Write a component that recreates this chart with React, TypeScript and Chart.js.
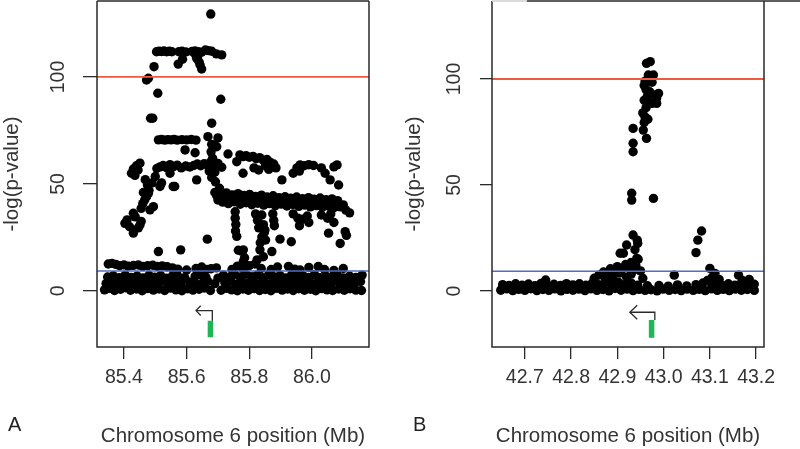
import React, { useEffect, useRef } from "react";
import { Chart, registerables } from "chart.js";
Chart.register(...registerables);

type P = [number, number];

// ---------- axis / reference values ----------
const xTicksA = [85.4, 85.6, 85.8, 86.0];
const xTicksB = [42.7, 42.8, 42.9, 43.0, 43.1, 43.2];
const yTicks = [0, 50, 100];
const redThreshold = 100;
const blueThreshold = 9.3;

// ---------- panel A: SNP positions (Mb) and -log(p) ----------
const snpsA_base: P[] = [
  [85.338,0.5],[85.352,1.2],[85.37,0.2],[85.389,0.8],[85.405,1.5],[85.421,0.3],[85.44,0.9],[85.458,0.1],[85.476,1.1],[85.494,0.4],
  [85.512,0.9],[85.53,0.2],[85.549,1.3],[85.566,0.5],[85.585,0.1],[85.603,1.0],[85.62,0.4],[85.64,0.8],[85.657,1.4],[85.676,0.2],
  [85.71,0.3],[85.727,1.2],[85.744,0.5],[85.762,0.1],[85.78,0.9],[85.797,0.3],[85.815,1.1],[85.833,0.2],[85.851,0.7],[85.869,0.1],
  [85.887,1.2],[85.905,0.4],[85.922,0.9],[85.94,0.2],[85.958,1.0],[85.976,0.3],[85.995,0.8],[86.012,0.1],[86.03,1.1],[86.048,0.5],
  [86.066,0.2],[86.085,0.9],[86.103,0.3],[86.121,1.0],[86.14,0.4],[86.158,0.2],
  [85.343,3.5],[85.361,4.2],[85.38,3.1],[85.398,4.6],[85.416,3.3],[85.435,4.0],[85.453,3.2],[85.472,4.4],[85.49,3.0],[85.508,3.8],
  [85.527,4.5],[85.545,3.2],[85.563,3.9],[85.582,3.3],[85.61,4.1],[85.632,3.0],[85.65,3.6],[85.668,4.4],[85.69,3.4],[85.722,3.8],
  [85.74,4.6],[85.758,3.1],[85.776,4.2],[85.794,3.5],[85.812,4.8],[85.83,3.2],[85.848,4.1],[85.866,3.4],[85.884,4.7],[85.902,3.1],
  [85.92,4.3],[85.938,3.6],[85.956,4.9],[85.974,3.2],[85.992,4.0],[86.01,3.4],[86.028,4.5],[86.046,3.1],[86.064,3.9],[86.082,4.6],
  [86.1,3.3],[86.118,4.1],[86.136,3.5],[86.155,4.4],
  [85.348,6.5],[85.366,7.1],[85.385,6.2],[85.404,7.4],[85.423,6.3],[85.442,7.0],[85.461,6.1],[85.48,7.3],[85.498,6.4],[85.517,7.2],
  [85.536,6.0],[85.555,7.1],[85.574,6.6],[85.594,6.2],[85.627,6.8],[85.645,7.5],[85.662,6.3],[85.7,6.0],[85.717,7.3],[85.735,6.4],
  [85.753,7.6],[85.771,6.5],[85.789,7.8],[85.807,6.6],[85.825,7.4],[85.843,6.2],[85.862,7.7],[85.88,6.5],[85.898,7.2],[85.916,6.1],
  [85.935,7.5],[85.953,6.4],[85.972,7.1],[85.99,6.3],[86.008,7.6],[86.026,6.2],[86.044,7.0],[86.063,6.4],[86.081,7.3],[86.1,6.1],
  [86.12,6.9],[86.14,6.3],[86.16,7.4],
  [85.35,12.6],[85.362,12.9],[85.374,12.4],[85.386,11.8],[85.4,12.2],[85.414,11.6],[85.43,11.9],[85.446,12.1],[85.46,11.5],[85.476,11.8],
  [85.492,12.0],[85.506,11.4],[85.522,11.7],[85.538,11.3],[85.555,10.8],[85.572,10.2],[85.6,9.8],[85.63,10.5],[85.648,11.2],[85.664,10.0],
  [85.678,10.4],[85.695,10.8],[85.745,10.1],[85.762,11.6],[85.78,10.4],[85.8,11.8],[85.818,12.6],[85.838,10.5],[85.87,10.0],[85.89,11.2],
  [85.925,11.5],[85.945,10.2],[85.962,9.8],[85.99,11.0],[86.02,11.4],[86.04,10.0],[86.07,9.6],[86.1,10.5],
];

const snpsA_mid: P[] = [
  [85.51,18.4],[85.581,19.2],[85.666,24.2],[85.765,19.0],[85.781,19.2],[85.775,18.6],[85.781,13.7],[85.785,15.5],[85.825,14.5],[85.845,16.0],
  [85.834,19.2],[85.872,18.4],[85.835,22.5],[85.84,25.2],[85.848,27.3],[85.852,23.8],[85.898,24.2],[85.934,23.0],[86.053,27.0],[86.09,22.2],
  [86.106,27.7],[86.11,26.0],
  [85.403,31.6],[85.41,33.2],[85.418,30.0],[85.43,36.3],[85.436,34.6],[85.446,29.5],[85.451,30.8],[85.43,27.0],[85.455,32.5],[85.46,40.8],
  [85.466,42.5],[85.472,44.0],[85.478,45.6],[85.455,38.6],[85.483,37.9],[85.494,39.4],[85.462,46.0],[85.468,52.0],[85.475,49.5],[85.48,47.0],
  [85.49,50.5],[85.5,53.5],
  [85.69,46.0],[85.708,45.3],[85.727,45.8],[85.745,44.9],[85.764,45.5],[85.783,44.6],[85.801,45.1],[85.82,44.2],[85.839,44.8],[85.857,43.9],
  [85.876,44.5],[85.895,43.6],[85.914,44.0],[85.932,43.3],[85.951,43.9],[85.97,43.1],[85.989,43.6],[86.007,42.9],[86.026,43.4],[86.045,42.6],
  [86.064,43.0],[86.082,42.2],
  [85.72,43.3],[85.74,43.0],[85.76,43.4],[85.78,42.8],[85.8,43.1],[85.82,42.5],[85.84,42.9],[85.86,42.2],[85.88,42.6],[85.9,42.0],
  [85.92,42.3],[85.94,41.8],[85.96,42.1],[85.98,41.5],[86.0,41.9],[86.02,41.3],[86.04,41.6],[86.06,41.0],[86.08,40.6],[86.1,40.2],
  [85.715,41.5],[85.733,40.8],[85.752,41.6],[85.771,40.5],[85.79,41.2],[85.808,40.3],[85.827,41.0],[85.846,40.1],[85.864,40.8],[85.883,39.9],
  [85.902,40.6],[85.92,39.7],[85.939,40.4],[85.958,39.5],[85.977,40.1],[85.995,39.3],[86.014,39.9],[86.033,39.1],[86.052,39.7],[86.07,38.9],
  [86.09,39.3],[86.108,37.8],[86.12,36.5],
  [85.755,37.0],[85.755,34.0],[85.757,31.0],[85.756,28.0],[85.76,25.5],[85.82,36.0],[85.826,33.0],[85.84,35.5],[85.845,31.0],[85.85,28.5],
  [85.83,29.5],[85.875,36.0],[85.878,33.0],[85.88,30.5],[85.94,36.0],[85.955,34.0],[85.97,33.5],[85.985,35.0],[85.99,32.0],[85.96,30.5],
  [86.03,35.5],[86.05,34.0],[86.06,36.0],[86.07,32.0],
  [85.7,42.5],[85.696,44.5],[85.705,48.0],
];

const snpsA_high: P[] = [
  [85.677,129.4],
  [85.504,111.8],[85.512,112.0],[85.52,111.9],[85.528,112.1],[85.536,111.8],[85.545,112.0],[85.553,111.8],[85.575,111.8],[85.585,112.0],[85.597,111.7],
  [85.617,111.9],[85.627,112.2],[85.637,111.8],[85.648,111.6],[85.66,112.6],[85.67,112.3],[85.68,112.0],[85.695,110.8],[85.712,110.3],
  [85.587,108.3],[85.573,106.0],[85.632,108.7],[85.64,107.0],[85.643,105.6],[85.648,103.7],[85.628,110.5],[85.636,110.0],
  [85.496,104.8],[85.472,98.6],[85.478,99.4],[85.508,92.4],[85.709,89.6],[85.485,80.7],[85.492,80.7],[85.68,78.4],
  [85.51,70.6],[85.52,70.8],[85.53,70.5],[85.54,70.7],[85.55,70.6],[85.56,70.8],[85.57,70.5],[85.585,70.7],[85.6,70.6],[85.615,70.8],
  [85.63,70.5],[85.668,72.1],[85.7,71.5],
  [85.595,65.9],[85.627,64.6],[85.696,67.4],[85.732,64.0],[85.68,68.5],[85.678,65.0],[85.683,62.0],
  [85.505,57.2],[85.515,58.0],[85.525,58.6],[85.536,57.6],[85.547,59.0],[85.558,58.1],[85.57,58.8],[85.583,57.5],[85.597,58.4],[85.61,57.9],
  [85.623,58.6],[85.634,59.3],[85.645,58.5],[85.656,59.5],[85.667,58.8],[85.676,60.2],[85.688,58.9],[85.7,59.6],[85.712,57.8],[85.672,56.0],
  [85.69,55.5],[85.68,53.0],[85.692,51.0],[85.632,51.9],[85.547,55.0],[85.557,48.8],[85.562,48.8],[85.515,48.8],[85.52,50.5],
  [85.424,55.0],[85.43,57.0],[85.44,58.5],[85.451,59.7],[85.445,56.5],[85.435,54.0],
  [85.76,60.4],[85.77,63.6],[85.78,62.8],[85.79,63.2],[85.8,62.5],[85.812,62.9],[85.822,61.8],[85.833,62.3],[85.845,61.0],[85.856,61.5],
  [85.866,60.2],[85.878,59.3],[85.885,57.5],[85.78,55.0],[85.904,51.9],[85.815,57.5],[85.83,56.5],[85.852,58.5],[85.862,56.8],
  [85.94,55.0],[85.952,57.5],[85.962,58.9],[85.975,58.5],[85.99,59.0],[86.005,58.6],[86.03,57.5],[86.042,55.0],[86.058,51.9],[86.07,58.0],
  [86.08,58.9],[86.085,49.5],[85.96,56.0],
];

// ---------- panel B ----------
const snpsB_base: P[] = [
  [42.648,0.4],[42.661,1.0],[42.674,0.2],[42.687,0.8],[42.7,0.3],[42.713,1.1],[42.726,0.2],[42.739,0.7],[42.752,0.3],[42.765,1.0],
  [42.778,0.1],[42.791,0.8],[42.804,0.4],[42.817,0.9],[42.83,0.2],[42.843,1.0],[42.856,0.3],[42.869,0.7],[42.882,0.1],[42.895,1.2],
  [42.908,0.4],[42.921,0.9],[42.934,0.2],[42.947,0.8],[42.96,0.3],[42.973,0.6],[42.986,0.1],[42.999,0.9],[43.012,0.3],[43.025,0.7],
  [43.038,0.2],[43.051,0.9],[43.064,0.3],[43.077,0.8],[43.09,0.2],[43.103,1.0],[43.116,0.3],[43.129,0.8],[43.142,0.2],[43.155,0.9],
  [43.168,0.4],[43.181,0.7],[43.196,0.3],
  [42.652,3.0],[42.666,2.6],[42.68,3.4],[42.694,2.8],[42.708,3.3],[42.722,2.5],[42.735,3.6],[42.745,5.2],[42.749,2.7],[42.763,3.2],
  [42.777,2.6],[42.79,3.5],[42.804,2.9],[42.818,3.4],[42.832,2.7],[42.846,3.8],[42.86,3.0],[42.874,4.0],[42.888,3.3],[42.902,4.2],
  [42.916,3.1],[42.93,3.7],[42.944,2.8],[42.965,2.5],[42.99,2.6],[43.01,2.3],[43.03,2.9],[43.05,2.4],[43.07,3.0],[43.085,3.8],
  [43.1,4.4],[43.112,3.2],[43.126,2.8],[43.14,3.4],[43.154,2.7],[43.168,3.5],[43.182,2.8],[43.196,3.2],
];

const snpsB_ramp: P[] = [
  [42.85,6.0],[42.86,7.5],[42.87,9.0],[42.88,8.0],[42.885,10.5],[42.895,9.5],[42.9,11.5],[42.905,8.5],[42.912,10.5],[42.918,12.5],
  [42.925,11.0],[42.93,13.5],[42.935,10.0],[42.94,12.0],[42.945,15.0],[42.906,17.8],[42.92,21.7],[42.934,26.4],[42.943,24.0],[42.942,15.4],
  [42.938,19.5],[42.913,17.8],[42.944,22.5],[42.93,8.0],[42.92,6.5],[42.95,9.5],[42.955,6.0],[42.89,6.5],[42.875,5.5],
  [43.082,28.3],[43.074,24.0],[43.07,18.1],[43.1,10.7],[43.111,8.3],[43.162,7.5],[43.023,7.5],[43.105,6.5],[43.12,5.5],[43.095,5.0],
  [43.17,5.0],[43.185,5.5],
];

const snpsB_peak: P[] = [
  [42.971,108.2],[42.963,107.4],[42.967,101.9],[42.978,101.9],[42.973,100.5],[42.96,99.0],[42.958,97.0],[42.975,98.5],[42.962,95.0],[42.97,94.0],
  [42.965,92.0],[42.989,93.2],[42.98,92.5],[42.958,90.0],[42.968,89.0],[42.975,88.5],[42.962,86.5],[42.955,84.0],[42.96,82.0],[42.966,81.0],
  [42.958,79.5],[42.934,76.7],[42.956,75.9],[42.963,72.0],[42.934,69.7],[42.934,65.7],[42.931,46.1],[42.931,42.9],[42.978,43.7],[42.985,91.0],
  [42.985,88.5],
];

// ---------- genes (position Mb, drawn below zero) ----------
const geneArrowA: P[] = [[85.682,-13.9],[85.682,-9.2],[85.630,-9.2]];
const geneHeadA: P[] = [[85.645,-6.9],[85.630,-9.2],[85.645,-11.5]];
const geneBarA: P[] = [[85.676,-13.9],[85.676,-21.6]];
const geneArrowB: P[] = [[42.981,-13.7],[42.981,-10.0],[42.927,-10.0]];
const geneHeadB: P[] = [[42.943,-6.7],[42.927,-10.0],[42.943,-13.3]];
const geneBarB: P[] = [[42.974,-13.7],[42.974,-22.0]];

const FONT = "'Liberation Sans', Arial, sans-serif";
const TEXT = "#333";

const toXY = (a: P[]) => a.map(([x, y]) => ({ x, y }));

const framePlugin = {
  id: "frame",
  afterDatasetsDraw(chart: any, _args: any, opts: any) {
    const { ctx, chartArea } = chart;
    const { left, top, right, bottom } = chartArea;
    ctx.save();
    ctx.lineWidth = 1.5;
    ctx.strokeStyle = "#2a2a2a";
    ctx.beginPath();
    ctx.moveTo(left, top);
    ctx.lineTo(left, bottom);
    ctx.lineTo(right, bottom);
    ctx.lineTo(right, top);
    ctx.stroke();
    if (opts.topSplit) {
      ctx.strokeStyle = "#cfcfcf";
      ctx.beginPath();
      ctx.moveTo(left, top);
      ctx.lineTo(left + opts.topSplit, top);
      ctx.stroke();
      ctx.strokeStyle = "#2a2a2a";
      ctx.beginPath();
      ctx.moveTo(left + opts.topSplit, top);
      ctx.lineTo(chart.width, top);
      ctx.stroke();
    } else {
      ctx.beginPath();
      ctx.moveTo(left, top);
      ctx.lineTo(right, top);
      ctx.stroke();
    }
    ctx.fillStyle = "#222";
    ctx.font = `20px ${FONT}`;
    ctx.textBaseline = "alphabetic";
    ctx.fillText(opts.letter, opts.letterX, opts.letterY);
    ctx.restore();
  },
};

interface PanelProps {
  xMin: number; xMax: number; yMin: number; yMax: number;
  xTicks: number[]; pts: P[][];
  arrow: P[]; head: P[]; bar: P[];
  letter: string; letterX: number;
  yAxisWidth: number; rightPad: number; yTickLen: number; yTickPad: number; yTitlePad: number;
  topSplit?: number;
}

function Panel(p: PanelProps) {
  const ref = useRef<HTMLCanvasElement | null>(null);
  useEffect(() => {
    if (!ref.current) return;
    const lineDs = (data: P[], color: string, width: number) => ({
      type: "scatter" as const,
      data: toXY(data),
      showLine: true,
      borderColor: color,
      borderWidth: width,
      pointRadius: 0,
      fill: false,
      tension: 0,
      borderCapStyle: "butt" as const,
    });
    const chart = new Chart(ref.current, {
      type: "scatter",
      data: {
        datasets: [
          lineDs([[p.xMin, redThreshold], [p.xMax, redThreshold]], "#ee5a3c", 1.8),
          lineDs([[p.xMin, blueThreshold], [p.xMax, blueThreshold]], "#4f6fc4", 1.5),
          lineDs(p.arrow, "#2a2a2a", 1.3),
          lineDs(p.head, "#2a2a2a", 1.3),
          lineDs(p.bar, "#1fb456", 5.5),
          ...p.pts.map((arr) => ({
            data: toXY(arr),
            pointRadius: 4.7,
            pointBackgroundColor: "#000",
            pointBorderWidth: 0,
            showLine: false,
          })),
        ] as any,
      },
      options: {
        animation: false,
        responsive: false,
        events: [],
        layout: { autoPadding: false, padding: { left: 0, right: p.rightPad, top: 1, bottom: 0 } },
        plugins: {
          legend: { display: false },
          tooltip: { enabled: false },
          frame: { letter: p.letter, letterX: p.letterX, letterY: 431, topSplit: p.topSplit },
        } as any,
        scales: {
          x: {
            type: "linear",
            min: p.xMin,
            max: p.xMax,
            afterBuildTicks: (s: any) => { s.ticks = p.xTicks.map((v) => ({ value: v })); },
            afterFit: (s: any) => { s.height = 102; s.paddingLeft = 0; s.paddingRight = 0; s.paddingTop = 0; s.paddingBottom = 0; },
            ticks: {
              autoSkip: false, minRotation: 0, maxRotation: 0, padding: 7, color: TEXT,
              font: { family: FONT, size: 19.5 },
              callback: (v: any) => Number(v).toFixed(1),
            },
            grid: { drawOnChartArea: false, drawTicks: true, tickLength: 12, color: "#2a2a2a", lineWidth: 1.3 },
            border: { display: false },
            title: {
              display: true, text: "Chromosome 6 position (Mb)", color: TEXT,
              font: { family: FONT, size: 20.5 }, padding: { top: 0, bottom: 0 },
            },
          },
          y: {
            type: "linear",
            min: p.yMin,
            max: p.yMax,
            afterBuildTicks: (s: any) => { s.ticks = yTicks.map((v) => ({ value: v })); },
            afterFit: (s: any) => { s.width = p.yAxisWidth; s.paddingTop = 0; s.paddingBottom = 0; s.paddingLeft = 0; s.paddingRight = 0; },
            ticks: {
              autoSkip: false, minRotation: 90, maxRotation: 90, crossAlign: "center",
              padding: p.yTickPad, color: TEXT, font: { family: FONT, size: 19.5 },
              callback: (v: any) => String(v),
            },
            grid: { drawOnChartArea: false, drawTicks: true, tickLength: p.yTickLen, color: "#2a2a2a", lineWidth: 1.3 },
            border: { display: false },
            title: {
              display: true, text: "-log(p-value)", color: TEXT,
              font: { family: FONT, size: 20.5 }, padding: { top: p.yTitlePad, bottom: 0 },
            },
          },
        },
      } as any,
      plugins: [framePlugin as any],
    });
    return () => chart.destroy();
  }, []);
  return <canvas ref={ref} width={400} height={449} style={{ display: "block", width: 400, height: 449 }} />;
}

export default function App() {
  return (
    <div style={{ position: "fixed", left: 0, top: 0, width: 800, height: 449, background: "#fff", display: "flex" }}>
      <Panel
        xMin={85.314} xMax={86.182} yMin={-26.2} yMax={135.5}
        xTicks={xTicksA} pts={[snpsA_base, snpsA_mid, snpsA_high]}
        arrow={geneArrowA} head={geneHeadA} bar={geneBarA}
        letter="A" letterX={8}
        yAxisWidth={97} rightPad={31} yTickLen={14} yTickPad={8} yTitlePad={0}
      />
      <Panel
        xMin={42.629} xMax={43.217} yMin={-26.4} yMax={136.8}
        xTicks={xTicksB} pts={[snpsB_base, snpsB_ramp, snpsB_peak]}
        arrow={geneArrowB} head={geneHeadB} bar={geneBarB}
        letter="B" letterX={13}
        yAxisWidth={92} rightPad={36} yTickLen={12} yTickPad={9} yTitlePad={2}
        topSplit={35}
      />
    </div>
  );
}
